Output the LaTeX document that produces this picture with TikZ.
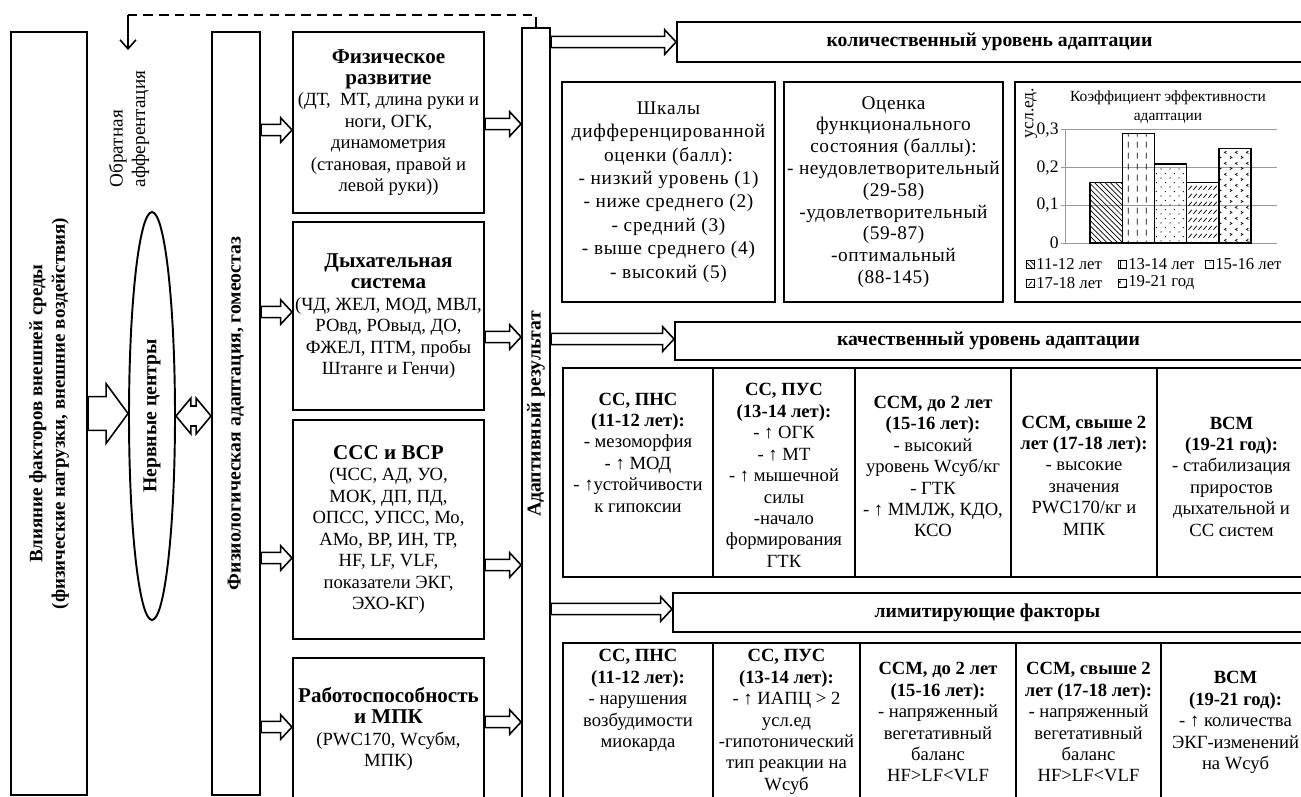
\documentclass[tikz,border=0pt]{standalone}
\usepackage{fontspec}
\setmainfont{Liberation Serif}
\usetikzlibrary{arrows.meta,positioning,calc,fit,patterns,shapes.geometric}
% sparse fills for the bars of the chart
\pgfdeclarepatternformonly{vdash}{\pgfqpoint{0pt}{0pt}}{\pgfqpoint{5pt}{6pt}}{\pgfqpoint{5pt}{6pt}}{%
  \pgfsetlinewidth{0.5pt}%
  \pgfpathmoveto{\pgfqpoint{2.5pt}{0.8pt}}\pgfpathlineto{\pgfqpoint{2.5pt}{4.4pt}}\pgfusepath{stroke}}
\pgfdeclarepatternformonly{sdots}{\pgfqpoint{0pt}{0pt}}{\pgfqpoint{5pt}{5pt}}{\pgfqpoint{5pt}{5pt}}{%
  \pgfpathcircle{\pgfqpoint{1.2pt}{1.2pt}}{0.4pt}\pgfpathcircle{\pgfqpoint{3.7pt}{3.7pt}}{0.4pt}\pgfusepath{fill}}
\pgfdeclarepatternformonly{sdash}{\pgfqpoint{0pt}{0pt}}{\pgfqpoint{2.6pt}{4.6pt}}{\pgfqpoint{2.6pt}{4.6pt}}{%
  \pgfsetlinewidth{0.45pt}%
  \pgfpathmoveto{\pgfqpoint{0.3pt}{0.8pt}}\pgfpathlineto{\pgfqpoint{2.3pt}{3.2pt}}\pgfusepath{stroke}}
\pgfdeclarepatternformonly{chev}{\pgfqpoint{0pt}{0pt}}{\pgfqpoint{6pt}{6pt}}{\pgfqpoint{6pt}{6pt}}{%
  \pgfsetlinewidth{0.4pt}%
  \pgfpathmoveto{\pgfqpoint{2pt}{5.2pt}}\pgfpathlineto{\pgfqpoint{0.8pt}{4.5pt}}\pgfpathlineto{\pgfqpoint{2pt}{3.8pt}}%
  \pgfpathmoveto{\pgfqpoint{4pt}{2.2pt}}\pgfpathlineto{\pgfqpoint{5.2pt}{1.5pt}}\pgfpathlineto{\pgfqpoint{4pt}{0.8pt}}%
  \pgfusepath{stroke}}
% bold headings in the boxes
\newcommand\hdm[1]{{\fontsize{12}{12.6}\selectfont\bfseries #1}}
\newcommand\hdq[1]{{\fontsize{10.6}{12.2}\selectfont\bfseries #1}}
\tikzset{
  >={Straight Barb[length=1.8mm,width=3.2mm]},
  cell/.style={draw,line width=1.1pt,inner sep=0pt},
  boxtext/.style={align=center,inner sep=0pt,font=\fontsize{10.6}{12.2}\selectfont},
  scaletext/.style={align=center,inner sep=0pt,font=\fontsize{11}{13.3}\selectfont\addfontfeature{LetterSpace=4}},
  headtext/.style={inner sep=0pt,font=\fontsize{11.2}{13}\selectfont\bfseries},
  vert/.style={rotate=90,align=center,inner sep=0pt,font=\fontsize{11.2}{13}\selectfont\bfseries},
  charttext/.style={align=center,inner sep=0pt,font=\fontsize{8.8}{10.5}\selectfont},
  legtext/.style={inner sep=0pt,font=\fontsize{9.5}{10}\selectfont},
  grid/.style={draw=black!40,line width=0.5pt},
  feed/.style={line width=0.9pt,dash pattern=on 5.5pt off 3.5pt},
  % hollow block arrow: half body, half head, head length
  hollow/.style n args={3}{draw,line width=0.9pt,fill=white,
    to path={let \p1=(\tikztostart), \p2=(\tikztotarget) in
      (\x1,\y1+#1) -- (\x2-#3,\y1+#1) -- (\x2-#3,\y1+#2) -- (\x2,\y1)
      -- (\x2-#3,\y1-#2) -- (\x2-#3,\y1-#1) -- (\x1,\y1-#1) -- cycle}},
  smallarrow/.style={hollow={3.2pt}{7pt}{6.5pt}},
  bigarrow/.style={hollow={9.6pt}{17pt}{12.5pt}},
  dhollow/.style={draw,line width=0.9pt,fill=white,
    to path={let \p1=(\tikztostart), \p2=(\tikztotarget) in
      (\x1,\y1) -- (\x1+8.5pt,\y1+10.2pt) -- (\x1+8.5pt,\y1+5.7pt) -- (\x2-8.5pt,\y1+5.7pt)
      -- (\x2-8.5pt,\y1+10.2pt) -- (\x2,\y1) -- (\x2-8.5pt,\y1-10.2pt) -- (\x2-8.5pt,\y1-5.7pt)
      -- (\x1+8.5pt,\y1-5.7pt) -- (\x1+8.5pt,\y1-10.2pt) -- cycle}},
}
\begin{document}
\begin{tikzpicture}[x=0.02cm,y=-0.02cm]
\useasboundingbox (0,0) rectangle (1301,796);
\clip (0,0) rectangle (1301,796);

% left part
\node[cell,fit={(11,32) (87,795)}] (env) {};
\node[vert,font=\fontsize{10.8}{12.8}\selectfont\bfseries] (envt) at (env.center) {Влияние факторов внешней среды\\(физические нагрузки, внешние воздействия)};
\node[draw,line width=1.1pt,ellipse,inner sep=0pt,minimum width=0.92cm,minimum height=8.16cm] (nc) at (152,416) {};
\node[vert] (nct) at (nc.center) {Нервные центры};
\node[vert,font=\fontsize{10.9}{12.8}\selectfont,align=left] (fbt) at (129,129) {Обратная\\афферентация};
\node[cell,fit={(212,32) (260,795)}] (phys) {};
\node[vert] (physt) at (phys.center) {Физиологическая адаптация, гомеостаз};

% indicators
\node[cell,fit={(293,32) (484,213)}] (fr) {};
\node[boxtext] (frt) at (fr.center) {\hdm{Физическое}\\\hdm{развитие}\\(ДТ,\ \ МТ, длина руки и\\ноги, ОГК,\\динамометрия\\(становая, правой и\\левой руки))};
\node[cell,fit={(293,222) (484,410)}] (br) {};
\node[boxtext] (brt) at (br.center) {\hdm{Дыхательная}\\\hdm{система}\\(ЧД, ЖЕЛ, МОД, МВЛ,\\РОвд, РОвыд, ДО,\\ФЖЕЛ, ПТМ, пробы\\Штанге и Генчи)};
\node[cell,fit={(293,420) (484,639)}] (cv) {};
\node[boxtext] (cvt) at (cv.center) {\hdm{ССС и ВСР}\\(ЧСС, АД, УО,\\МОК, ДП, ПД,\\ОПСС, УПСС, Мо,\\АМо, ВР, ИН, ТР,\\HF, LF, VLF,\\показатели ЭКГ,\\ЭХО-КГ)};
\node[cell,fit={(293,658) (484,800)}] (wk) {};
\node[boxtext] (wkt) at (wk.center) {\hdm{Работоспособность}\\\hdm{и МПК}\\(PWC170, Wсубм,\\МПК)};
\node[cell,fit={(522,28) (550,800)}] (res) {};
\node[vert] (rest) at (res.center) {Адаптивный результат};

% quantitative level
\node[cell,fit={(677,22) (1310,62)}] (h1) {};
\node[headtext] (h1t) at ($(h1.center)+(-4,0)$) {количественный уровень адаптации};
\node[cell,fit={(562,82) (775,302)}] (sc) {};
\node[scaletext] (sct) at (sc.center) {Шкалы\\дифференцированной\\оценки (балл):\\- низкий уровень (1)\\- ниже среднего (2)\\- средний (3)\\- выше среднего (4)\\- высокий (5)};
\node[cell,fit={(784,82) (1003,302)}] (os) {};
\node[scaletext,font=\fontsize{11}{12.4}\selectfont\addfontfeature{LetterSpace=3}] (ost) at (os.center) {Оценка\\функционального\\состояния (баллы):\\- неудовлетворительный\\(29-58)\\-удовлетворительный\\(59-87)\\-оптимальный\\(88-145)};
\node[cell,fit={(1015,82) (1310,302)}] (ch) {};

% chart
\node[charttext] (cht) at (1168,107) {Коэффициент эффективности\\адаптации};
\node[charttext,rotate=90,font=\fontsize{10}{11}\selectfont] (chy) at (1031,113) {усл.ед.};
\foreach \v/\l in {0/0,1/{0,1},2/{0,2},3/{0,3}} {
  \node[legtext,anchor=east,font=\fontsize{10}{11}\selectfont] (tk\v) at (1059,243-\v*37.7) {\l};
  \draw[grid] (1061,243-\v*37.7) -- (1065,243-\v*37.7);
}
\foreach \v in {1,2,3} \draw[grid] (1065,243-\v*37.7) -- (1277,243-\v*37.7);
\draw[grid] (1065,130) -- (1065,243) -- (1277,243);
\foreach \i/\v/\p in {0/0.16/north west lines,1/0.29/vdash,2/0.21/sdots,3/0.16/sdash,4/0.25/chev}
  \draw[line width=0.8pt,pattern=\p] (1090+\i*32.2,243) rectangle ++(32.2,-\v*377);
\foreach \p/\t/\x/\y in {north west lines/11-12 лет/1030/264,vdash/13-14 лет/1122/264,sdots/15-16 лет/1209/264,
    sdash/17-18 лет/1030/283,chev/19-21 год/1122/283} {
  \draw[line width=0.5pt,pattern=\p] (\x-4,\y-4) rectangle (\x+4,\y+4);
  \node[legtext,anchor=west] (lg-\x-\y) at (\x+6,\y) {\t};
}

% qualitative level
\node[cell,fit={(675,322) (1310,360)}] (h2) {};
\node[headtext] (h2t) at ($(h2.center)+(-4,0)$) {качественный уровень адаптации};
\node[cell,fit={(563,368) (713,577)}] (q1) {};
\node[boxtext] (q1t) at ($(q1.center)+(0,-20)$) {\hdq{СС, ПНС}\\\hdq{(11-12 лет):}\\- мезоморфия\\- ↑ МОД\\- ↑устойчивости\\к гипоксии};
\node[cell,fit={(713,368) (855,577)}] (q2) {};
\node[boxtext] (q2t) at ($(q2.center)+(0,3)$) {\hdq{СС, ПУС}\\\hdq{(13-14 лет):}\\- ↑ ОГК\\- ↑ МТ\\- ↑ мышечной\\силы\\-начало\\формирования\\ГТК};
\node[cell,fit={(855,368) (1011,577)}] (q3) {};
\node[boxtext] (q3t) at ($(q3.center)+(0,-6)$) {\hdq{ССМ, до 2 лет}\\\hdq{(15-16 лет):}\\- высокий\\уровень Wсуб/кг\\- ГТК\\- ↑ ММЛЖ, КДО,\\КСО};
\node[cell,fit={(1011,368) (1157,577)}] (q4) {};
\node[boxtext] (q4t) at ($(q4.center)+(0,3)$) {\hdq{ССМ, свыше 2}\\\hdq{лет (17-18 лет):}\\- высокие\\значения\\PWC170/кг и\\МПК};
\node[cell,fit={(1157,368) (1310,577)}] (q5) {};
\node[boxtext] (q5t) at ($(q5.center)+(-2,4)$) {\hdq{ВСМ}\\\hdq{(19-21 год):}\\- стабилизация\\приростов\\дыхательной и\\СС систем};

% limiting factors
\node[cell,fit={(673,593) (1310,632)}] (h3) {};
\node[headtext] (h3t) at ($(h3.center)+(-4,0)$) {лимитирующие факторы};
\node[cell,fit={(563,643) (713,800)}] (l1) {};
\node[boxtext,anchor=north] (l1t) at ($(l1.north)+(0,7)$) {\hdq{СС, ПНС}\\\hdq{(11-12 лет):}\\- нарушения\\возбудимости\\миокарда};
\node[cell,fit={(713,643) (860,800)}] (l2) {};
\node[boxtext,anchor=north] (l2t) at ($(l2.north)+(0,7)$) {\hdq{СС, ПУС}\\\hdq{(13-14 лет):}\\- ↑ ИАПЦ > 2\\усл.ед\\-гипотонический\\тип реакции на\\Wсуб};
\node[cell,fit={(860,643) (1016,800)}] (l3) {};
\node[boxtext,anchor=north] (l3t) at ($(l3.north)+(0,20)$) {\hdq{ССМ, до 2 лет}\\\hdq{(15-16 лет):}\\- напряженный\\вегетативный\\баланс\\HF>LF<VLF};
\node[cell,fit={(1016,643) (1161,800)}] (l4) {};
\node[boxtext,anchor=north] (l4t) at ($(l4.north)+(0,20)$) {\hdq{ССМ, свыше 2}\\\hdq{лет (17-18 лет):}\\- напряженный\\вегетативный\\баланс\\HF>LF<VLF};
\node[cell,fit={(1161,643) (1310,800)}] (l5) {};
\node[boxtext,anchor=north] (l5t) at ($(l5.north)+(0,29)$) {\hdq{ВСМ}\\\hdq{(19-21 год):}\\- ↑ количества\\ЭКГ-изменений\\на Wсуб};

% connectors
\draw[bigarrow] (env.east) to (nc.west);
\draw[dhollow] (nc.east) to (phys.west);
\draw[smallarrow] ($(phys.east |- fr.west)+(0,7.5)$) to (fr.west);
\draw[smallarrow] ($(phys.east |- br.west)+(0,-4)$) to (br.west);
\draw[smallarrow] ($(phys.east |- cv.west)+(0,28.5)$) to (cv.west);
\draw[smallarrow] ($(phys.east |- wk.west)+(0,-2)$) to (wk.west);
\draw[smallarrow] ($(fr.east)+(0,1.5)$) to (res.west);
\draw[smallarrow] ($(br.east)+(0,21)$) to (res.west);
\draw[smallarrow] ($(cv.east)+(0,35.5)$) to (res.west);
\draw[smallarrow] ($(wk.east)+(0,-7)$) to (res.west);
\draw[smallarrow] (res.east |- h1.west) to (h1.west);
\draw[smallarrow] ($(res.east |- h2.west)+(0,-2)$) to (h2.west);
\draw[smallarrow] ($(res.east |- h3.west)+(0,-3.5)$) to (h3.west);
\coordinate (fbc) at (128,15);
\coordinate (fbe) at (128,50);
\draw[feed] (res.north) |- (fbc);
\draw[->,line width=0.9pt] (fbc) -- (fbe);
\end{tikzpicture}
\end{document}
